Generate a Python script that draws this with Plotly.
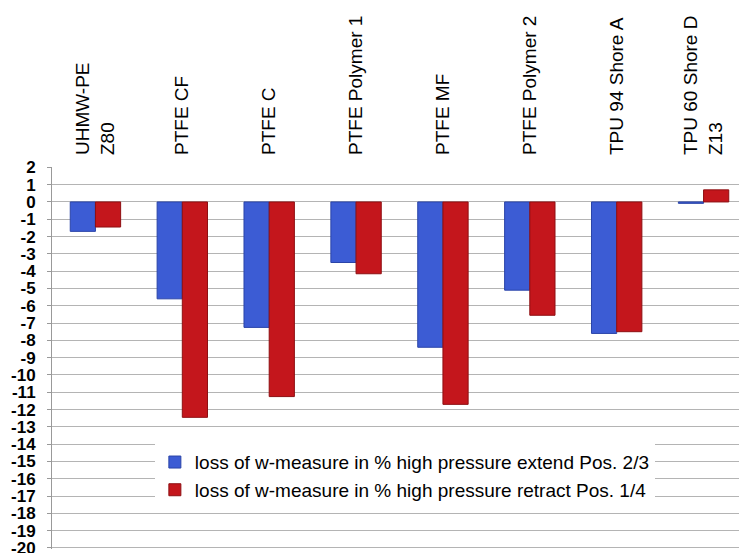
import plotly.graph_objects as go

categories = ["UHMW-PE<br>Z80", "PTFE CF", "PTFE C", "PTFE Polymer 1", "PTFE MF",
              "PTFE Polymer 2", "TPU 94 Shore A", "TPU 60 Shore D<br>Z13"]
extend_vals = [-1.7, -5.6, -7.25, -3.5, -8.4, -5.1, -7.6, -0.08]
retract_vals = [-1.45, -12.45, -11.25, -4.15, -11.7, -6.55, -7.5, 0.7]
series_names = ["loss of w-measure in % high pressure extend Pos. 2/3",
                "loss of w-measure in % high pressure retract Pos. 1/4"]
y_ticks = list(range(2, -21, -1))

fig = go.Figure()
fig.add_trace(go.Bar(x=categories, y=extend_vals, name=series_names[0],
                     marker=dict(color="#3C5CD4", line=dict(color="#2A44A8", width=1))))
fig.add_trace(go.Bar(x=categories, y=retract_vals, name=series_names[1],
                     marker=dict(color="#C4161C", line=dict(color="#8E0F12", width=1))))

fig.update_layout(
    width=739, height=545,
    margin=dict(l=44, r=0, t=159, b=4),
    paper_bgcolor="white", plot_bgcolor="white",
    barmode="group", bargap=0.42, bargroupgap=0,
    font=dict(family="Liberation Sans, Arial, sans-serif", color="black"),
    legend=dict(x=0.148, y=0.277, xanchor="left", yanchor="top",
                bgcolor="white", font=dict(size=19),
                itemwidth=30, tracegroupgap=0),
    xaxis=dict(side="top", tickangle=-90, tickfont=dict(size=19),
               showgrid=False, showline=False, ticks="",
               automargin=False, ticklabelstandoff=11),
    yaxis=dict(range=[-20.06, 2.02], tickvals=y_ticks, ticktext=[str(v) for v in y_ticks],
               tickfont=dict(size=17, weight="bold"),
               showgrid=True, gridcolor="#b4b4b4", gridwidth=1,
               zeroline=True, zerolinecolor="#b4b4b4", zerolinewidth=1,
               showline=True, linecolor="#999999", linewidth=1,
               ticks="outside", ticklen=4, tickcolor="#999999",
               automargin=False, ticklabelstandoff=8,
               ticklabeloverflow="allow"),
)

fig.write_html("out.html")
